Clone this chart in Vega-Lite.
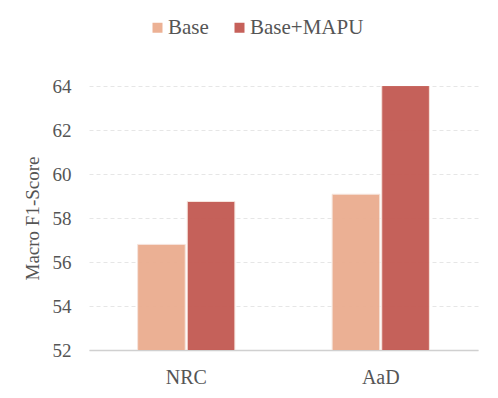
{
  "$schema": "https://vega.github.io/schema/vega-lite/v6.json",
  "autosize": "none",
  "width": 389,
  "height": 264,
  "padding": {"left": 89, "top": 86, "right": 20, "bottom": 48},
  "background": "white",
  "config": {
    "font": "Liberation Serif",
    "view": {"stroke": null},
    "legend": {"padding": 0}
  },
  "data": {
    "values": [
      {"dataset": "NRC", "method": "Base", "score": 56.8},
      {"dataset": "NRC", "method": "Base+MAPU", "score": 58.75},
      {"dataset": "AaD", "method": "Base", "score": 59.08},
      {"dataset": "AaD", "method": "Base+MAPU", "score": 64.02}
    ]
  },
  "mark": {"type": "bar", "stroke": "#f6e4dc", "strokeWidth": 1, "opacity": 0.97, "clip": true},
  "encoding": {
    "x": {
      "field": "dataset",
      "type": "nominal",
      "sort": ["NRC", "AaD"],
      "scale": {"paddingInner": 0.5, "paddingOuter": 0.25},
      "axis": {
        "title": null,
        "labelAngle": 0,
        "labelFont": "Liberation Serif",
        "labelFontSize": 20,
        "labelColor": "#555555",
        "labelPadding": 17,
        "ticks": false,
        "domainColor": "#d0d0d0",
        "domainWidth": 1.5,
        "grid": false
      }
    },
    "xOffset": {"field": "method", "type": "nominal", "scale": {"paddingInner": 0.04}},
    "y": {
      "field": "score",
      "type": "quantitative",
      "scale": {"domain": [52, 64], "zero": false, "nice": false},
      "axis": {
        "title": "Macro F1-Score",
        "titleFont": "Liberation Serif",
        "titleFontSize": 19,
        "titleFontWeight": "normal",
        "titleColor": "#555555",
        "titlePadding": 10,
        "values": [52, 54, 56, 58, 60, 62, 64],
        "labelFont": "Liberation Serif",
        "labelFontSize": 19,
        "labelColor": "#555555",
        "labelPadding": 18,
        "ticks": false,
        "domain": false,
        "gridColor": "#e6e6e6",
        "gridDash": [4, 3],
        "gridWidth": 1
      }
    },
    "color": {
      "field": "method",
      "type": "nominal",
      "scale": {"domain": ["Base", "Base+MAPU"], "range": ["#ebae91", "#c45c55"]},
      "legend": {
        "title": null,
        "orient": "none",
        "direction": "horizontal",
        "legendX": 58,
        "legendY": -69,
        "symbolType": "square",
        "symbolSize": 100,
        "symbolStrokeWidth": 0,
        "labelFont": "Liberation Serif",
        "labelFontSize": 21,
        "labelColor": "#555555",
        "columnPadding": 20,
        "labelOffset": 0
      }
    }
  }
}
